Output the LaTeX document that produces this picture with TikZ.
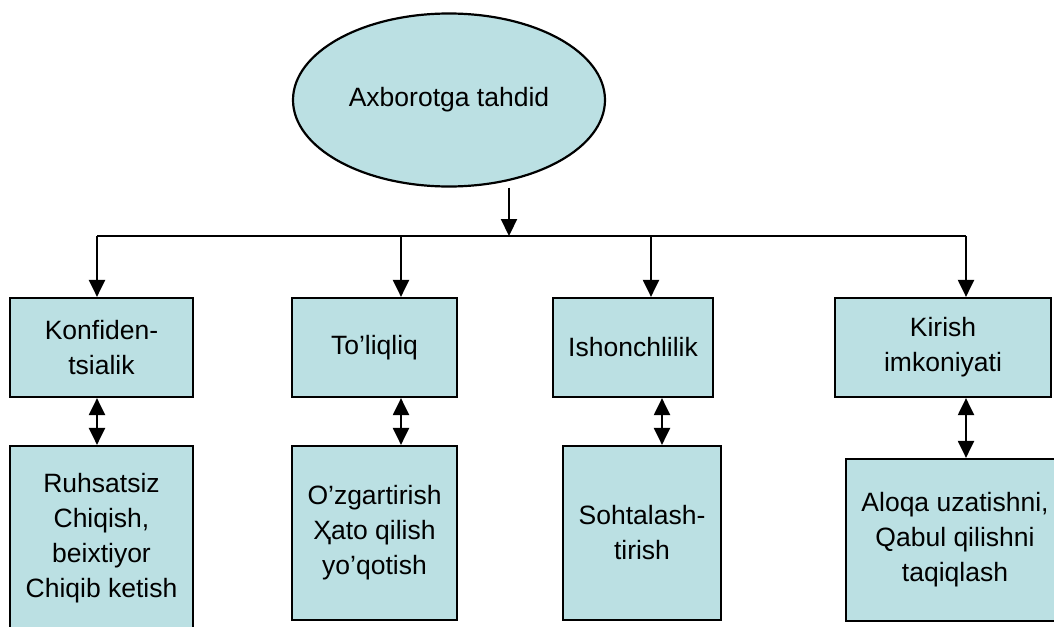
\documentclass[tikz,border=0pt]{standalone}
\usepackage{fontspec}
\setmainfont{Liberation Sans}
\usetikzlibrary{shapes.geometric,arrows.meta}
\definecolor{boxfill}{RGB}{187,224,227}

\begin{document}
\begin{tikzpicture}[x=1pt, y=-1pt, line width=2.2pt, >={Triangle[length=17pt,width=16pt]},
  box/.style={draw, fill=boxfill, inner sep=0pt, align=center, font=\fontsize{26.5}{35}\selectfont}]
\useasboundingbox (0,0) rectangle (1054,626);
\clip (0,0) rectangle (1054,626);
\node [ellipse, draw, fill=boxfill, minimum width=312pt, minimum height=173pt, inner sep=0pt, font=\fontsize{26.5}{32}\selectfont] (top) at (449,100) {Axborotga tahdid};

\node [box, minimum width=183pt, minimum height=99pt] (k1) at (101.5,347.5) {Konfiden-\\tsialik};
\node [box, minimum width=165pt, minimum height=99pt] (k2) at (374.5,347.5) {To’liqliq};
\node [box, minimum width=160pt, minimum height=99pt] (k3) at (633,347.5) {Ishonchlilik};
\node [box, minimum width=216pt, minimum height=99pt] (k4) at (943,347.5) {Kirish\\imkoniyati};

\node [box, minimum width=183pt, minimum height=184pt] (r1) at (101.5,538) {Ruhsatsiz\\Chiqish,\\beixtiyor\\Chiqib ketish};
\node [box, minimum width=165pt, minimum height=174pt] (r2) at (374.5,533) {O’zgartirish\\Ҳato qilish\\yo’qotish};
\node [box, minimum width=158pt, minimum height=174pt] (r3) at (642,533) {Sohtalash-\\tirish};
\node [box, minimum width=218pt, minimum height=162pt] (r4) at (955,540) {Aloqa uzatishni,\\Qabul qilishni\\taqiqlash};

\coordinate (j) at (509,236);
\coordinate (b1) at (97,236);
\coordinate (b2) at (401,236);
\coordinate (b3) at (651,236);
\coordinate (b4) at (966,236);
\coordinate (d3) at (662,420);

\draw[->] (top.south -| j) -- (j);
\draw (b1) -- (b4);
\draw[->] (b1) -- (k1.north -| b1);
\draw[->] (b2) -- (k2.north -| b2);
\draw[->] (b3) -- (k3.north -| b3);
\draw[->] (b4) -- (k4.north -| b4);

\draw[<->] (k1.south -| b1) -- (r1.north -| b1);
\draw[<->] (k2.south -| b2) -- (r2.north -| b2);
\draw[<->] (k3.south -| d3) -- (r3.north -| d3);
\draw[<->] (k4.south -| b4) -- (r4.north -| b4);
\end{tikzpicture}
\end{document}
